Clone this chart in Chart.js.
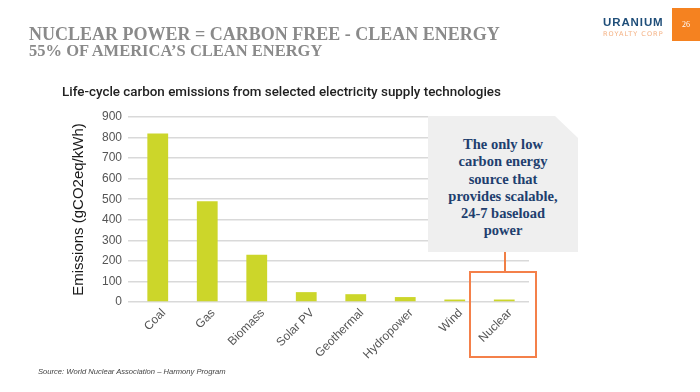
<!DOCTYPE html>
<html>
<head>
<meta charset="utf-8">
<script src="https://cdn.jsdelivr.net/npm/chart.js@4"></script>
<style>
  body { margin: 0; width: 700px; height: 392px; position: relative; background: #fff; overflow: hidden; font-family: "Liberation Sans", Arial, sans-serif; }
  #myChart { position: absolute; left: 0; top: 0; }
  .abs { position: absolute; white-space: nowrap; }
  #head1 { left: 29px; top: 24px; font: bold 18px "Liberation Serif", serif; color: #8a8a8a; }
  #head2 { left: 29px; top: 41px; font: bold 16.5px "Liberation Serif", serif; color: #8a8a8a; }
  #logo1 { left: 603px; top: 16px; font: bold 11.5px "Liberation Sans", sans-serif; color: #1f4e79; letter-spacing: 0.9px; }
  #logo2 { left: 603px; top: 30px; font: 6.5px "DejaVu Sans", sans-serif; color: #f4b183; letter-spacing: 1.05px; }
  #page { left: 672px; top: 8px; width: 28px; height: 33px; background: #f58220; color: #fff; font: 8px "Liberation Serif", serif; text-align: center; line-height: 33px; }
  #sub { left: 62px; top: 84px; font: 500 13.4px Roboto, sans-serif; color: #222; }
  #callout { left: 428px; top: 116px; width: 150px; height: 136px; background: #efefef;
    clip-path: polygon(0 0, 127px 0, 150px 22px, 150px 136px, 0 136px); }
  #callout div { position: absolute; left: 0; right: 0; top: 20px; text-align: center; font: bold 14.5px "Liberation Serif", serif; color: #213e6e; line-height: 17.3px; }
  #stem { left: 504px; top: 252px; width: 2px; height: 19px; background: #f07f45; }
  #box { left: 469px; top: 271px; width: 64px; height: 83px; border: 2px solid #f4804a; }
  #src { left: 38px; top: 367px; font: italic 7.6px "Liberation Sans", sans-serif; color: #444; }
</style>
</head>
<body>
<canvas id="myChart" width="700" height="392"></canvas>
<div class="abs" id="head1">NUCLEAR POWER = CARBON FREE - CLEAN ENERGY</div>
<div class="abs" id="head2">55% OF AMERICA’S CLEAN ENERGY</div>
<div class="abs" id="logo1">URANIUM</div>
<div class="abs" id="logo2">ROYALTY CORP</div>
<div class="abs" id="page">26</div>
<div class="abs" id="sub">Life-cycle carbon emissions from selected electricity supply technologies</div>
<div class="abs" id="callout"><div>The only low<br>carbon energy<br>source that<br>provides scalable,<br>24-7 baseload<br>power</div></div>
<div class="abs" id="stem"></div>
<div class="abs" id="box"></div>
<div class="abs" id="src">Source: World Nuclear Association – Harmony Program</div>
<script>
// categories and life-cycle emissions (gCO2eq/kWh)
const technologies = ["Coal", "Gas", "Biomass", "Solar PV", "Geothermal", "Hydropower", "Wind", "Nuclear"];
const emissions = [820, 490, 230, 48, 38, 24, 12, 12];
const yTicks = [0, 100, 200, 300, 400, 500, 600, 700, 800, 900];

const ctx = document.getElementById("myChart").getContext("2d");
const myChart = new Chart(ctx, {
  type: "bar",
  data: {
    labels: technologies,
    datasets: [
      {
        data: emissions,
        backgroundColor: "#ccd62a",
        barPercentage: 0.42,
        categoryPercentage: 1,
      },
    ],
  },
  options: {
    responsive: false,
    animation: false,
    layout: { padding: { left: 70, right: 171, top: 117, bottom: 0 } },
    plugins: { legend: { display: false }, tooltip: { enabled: false } },
    scales: {
      y: {
        min: yTicks[0],
        max: yTicks[yTicks.length - 1],
        afterBuildTicks: (scale) => { scale.ticks = yTicks.map((v) => ({ value: v })); },
        afterFit: (scale) => { scale.width = 63; },
        border: { display: false },
        grid: { color: "#d9d9d9", lineWidth: 1.5, tickLength: 5 },
        ticks: { color: "#555", padding: 6, font: { family: "Liberation Sans", size: 12 } },
        title: {
          display: true,
          text: "Emissions (gCO2eq/kWh)",
          color: "#1a1a1a",
          padding: 0,
          font: { family: "Liberation Sans", size: 15 },
        },
      },
      x: {
        afterFit: (scale) => { scale.height = 90; },
        grid: { display: false },
        border: { display: false },
        ticks: {
          color: "#555",
          maxRotation: 45,
          minRotation: 45,
          padding: -4,
          labelOffset: 6,
          font: { family: "Liberation Sans", size: 12 },
        },
      },
    },
  },
});
</script>
</body>
</html>
